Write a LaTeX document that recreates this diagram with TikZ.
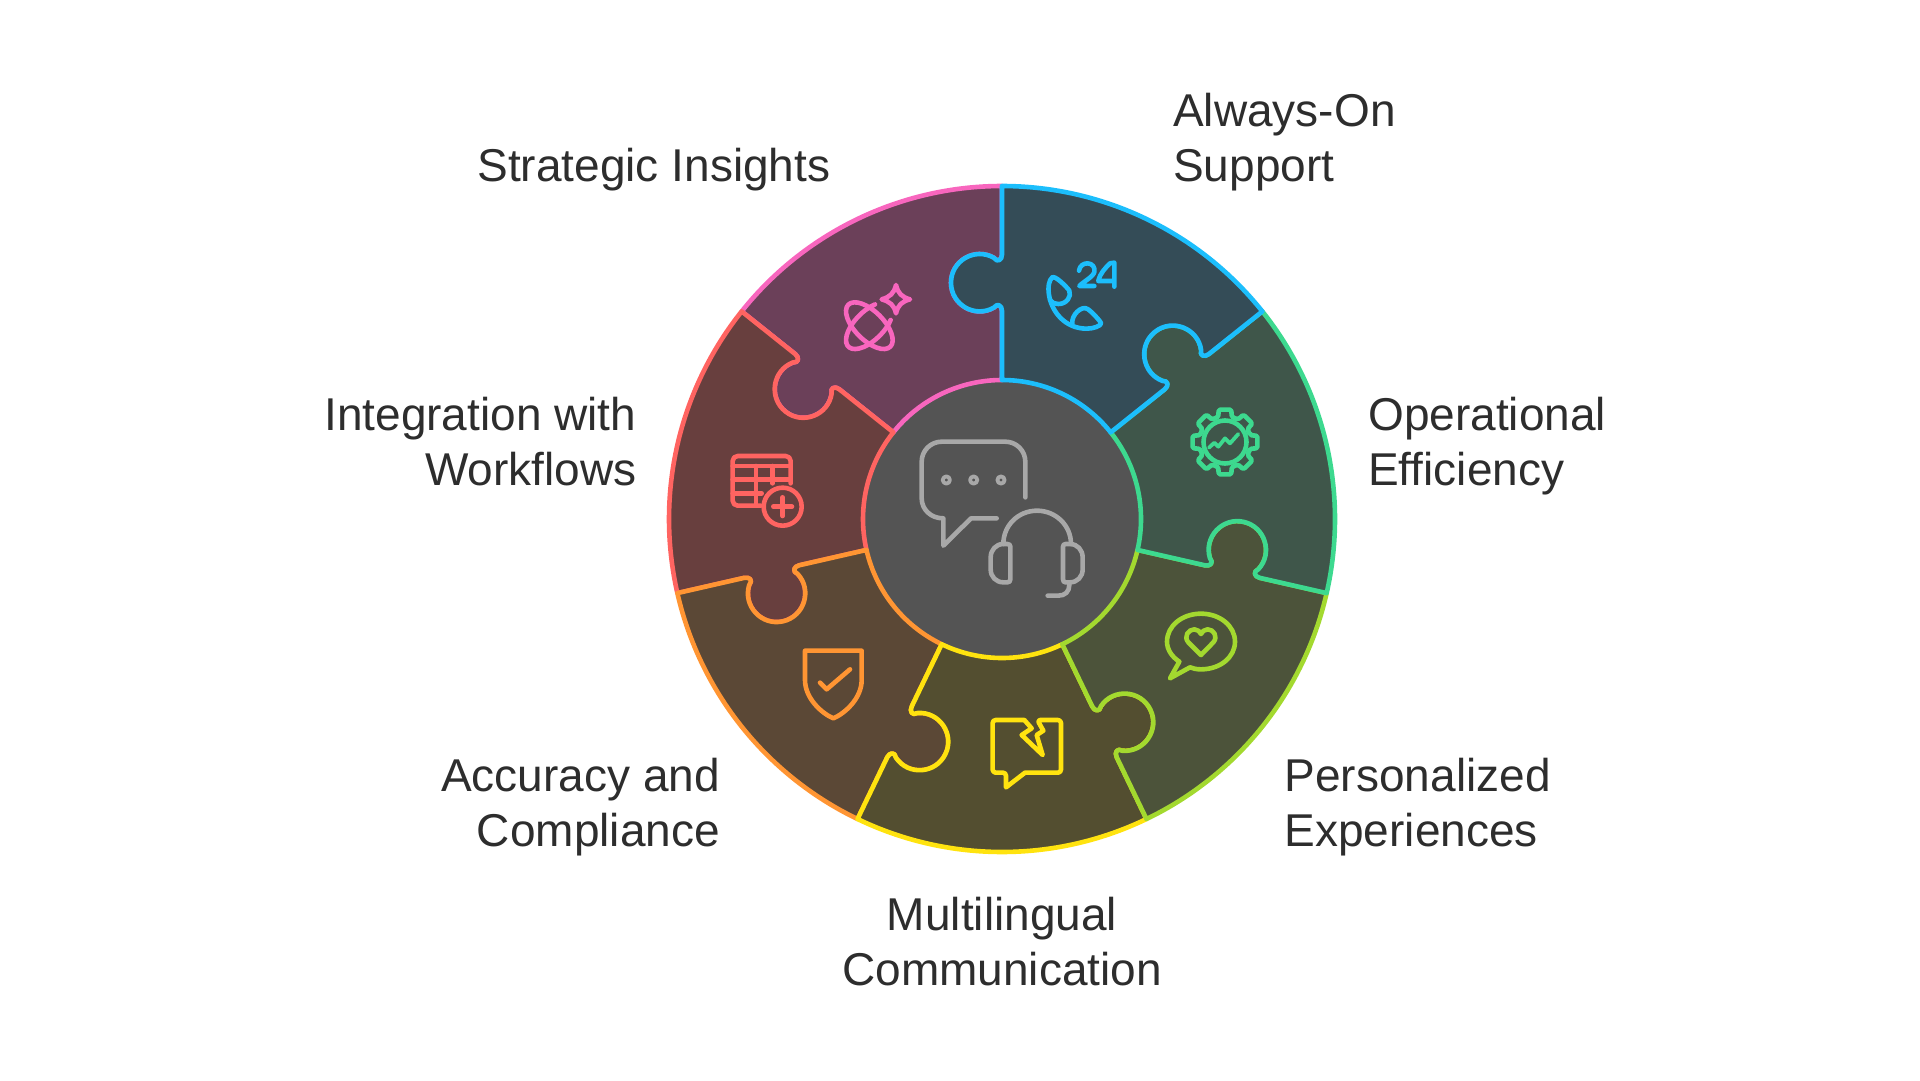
\documentclass[tikz,border=0pt]{standalone}
\usepackage{fontspec}
\setmainfont{Liberation Sans}
\definecolor{cblue}{HTML}{1CBEFC}\definecolor{fblue}{HTML}{344C57}
\definecolor{cgreen}{HTML}{3DD98F}\definecolor{fgreen}{HTML}{3F564A}
\definecolor{clime}{HTML}{A3D92F}\definecolor{flime}{HTML}{4C533A}
\definecolor{cyel}{HTML}{FFE30F}\definecolor{fyel}{HTML}{534E30}
\definecolor{corg}{HTML}{FF9533}\definecolor{forg}{HTML}{5B4836}
\definecolor{cred}{HTML}{FF6461}\definecolor{fred}{HTML}{683F3E}
\definecolor{cpink}{HTML}{F866BE}\definecolor{fpink}{HTML}{6B4059}
\definecolor{ccore}{HTML}{545454}\definecolor{cicon}{HTML}{A8A8A8}
\definecolor{ctext}{HTML}{2D2D2D}
\tikzset{
  piece/.style={line width=4.6pt,line join=round},
  icon/.style={line width=4.6pt,line cap=round,line join=round},
  zoomed/.style={x=0.33333pt,y=-0.33333pt},
  label/.style={font=\fontsize{46}{55}\selectfont,text=ctext,inner sep=0pt}
}
% one piece: #1,#2 = its two dividers, #3,#4 = their angles
\newcommand{\puzzlepiece}[6]{%
  \draw[piece,draw=#5,fill=#6]
    (d#1a) -- (d#1b) .. controls (d#1c) and (d#1d) .. (d#1e)
    .. controls (d#1f) and (d#1g) .. (d#1h)
    .. controls (d#1i) and (d#1j) .. (d#1k)
    .. controls (d#1l) and (d#1m) .. (d#1n) -- (d#1o)
    arc[start angle=#3,end angle=#4,radius=333pt]
    -- (d#2n) .. controls (d#2m) and (d#2l) .. (d#2k)
    .. controls (d#2j) and (d#2i) .. (d#2h)
    .. controls (d#2g) and (d#2f) .. (d#2e)
    .. controls (d#2d) and (d#2c) .. (d#2b) -- (d#2a)
    arc[start angle=#4,end angle=#3,radius=139pt] -- cycle;}
\begin{document}
\begin{tikzpicture}[x=1pt,y=-1pt]
\useasboundingbox (0,0) rectangle (1920,1080);
\coordinate (hub) at (1002,519);
\begin{scope}[shift={(hub)},y=1pt]
  \foreach \n/\ang in {1/141.4286,2/90,3/38.5714,4/-12.8571,5/-64.2857,6/-115.7143,7/-167.1429}{
    \begin{scope}[rotate=\ang]
      \coordinate (d\n a) at (139,0);
      \coordinate (d\n b) at (208,0);
      \coordinate (d\n c) at (213.5,0);
      \coordinate (d\n d) at (216.5,4.5);
      \coordinate (d\n e) at (211.5,8);
      \coordinate (d\n f) at (200.4,27);
      \coordinate (d\n g) at (214.3,51);
      \coordinate (d\n h) at (236.3,51);
      \coordinate (d\n i) at (258.3,51);
      \coordinate (d\n j) at (272.2,27);
      \coordinate (d\n k) at (261.1,8);
      \coordinate (d\n l) at (256.1,4.5);
      \coordinate (d\n m) at (259,0);
      \coordinate (d\n n) at (264.5,0);
      \coordinate (d\n o) at (333,0);
    \end{scope}}
  \fill[ccore] (0,0) circle[radius=139pt];
  \puzzlepiece{1}{2}{141.4286}{90}{cpink}{fpink}
  \puzzlepiece{7}{1}{-167.1429}{-218.5714}{cred}{fred}
  \puzzlepiece{6}{7}{-115.7143}{-167.1429}{corg}{forg}
  \puzzlepiece{5}{6}{-64.2857}{-115.7143}{cyel}{fyel}
  \puzzlepiece{4}{5}{-12.8571}{-64.2857}{clime}{flime}
  \puzzlepiece{3}{4}{38.5714}{-12.8571}{cgreen}{fgreen}
  \puzzlepiece{2}{3}{90}{38.5714}{cblue}{fblue}
\end{scope}
% centre icon
\begin{scope}[shift={(900,420)},zoomed,icon,draw=cicon]
  \draw (376,232) -- (376,125) .. controls (376,92) and (349,65) .. (316,65) -- (125,65) .. controls (92,65) and (65,92) .. (65,125) -- (65,235) .. controls (65,268) and (92,295) .. (130,295) -- (130,377) -- (213,295) -- (290,295);
  \foreach \q in {139,221,303}{\draw[line width=3.8pt] (\q,180) circle[radius=3.6pt];}
  \draw (310,372) .. controls (310,316) and (355,272) .. (411,272) .. controls (467,272) and (513,316) .. (513,372);
  \draw (322,372) .. controls (328,372) and (331,375) .. (331,380) -- (331,478) .. controls (331,484) and (328,487) .. (322,487) -- (310,487) .. controls (288,487) and (272,470) .. (272,448) -- (272,412) .. controls (272,390) and (288,372) .. (310,372) -- cycle;
  \draw (497,372) .. controls (492,372) and (489,375) .. (489,380) -- (489,478) .. controls (489,484) and (492,487) .. (497,487) -- (510,487) .. controls (532,487) and (548,470) .. (548,448) -- (548,412) .. controls (548,390) and (532,372) .. (510,372) -- cycle;
  \draw (508,487) -- (508,495) .. controls (508,515) and (495,527) .. (475,527) -- (443,527);
\end{scope}
% pink icon
\begin{scope}[shift={(830,275)},zoomed,icon,draw=cpink]
  \draw[shift={(118,152)},rotate=-45] (0,0) ellipse[x radius=29.7pt,y radius=14.4pt];
  \draw[shift={(118,152)},rotate=45] (19.1pt,11pt) arc[start angle=50,end angle=310,x radius=29.7pt,y radius=14.4pt];
  \draw (198,30) .. controls (204,55) and (215,66) .. (240,73) .. controls (215,80) and (204,90) .. (198,115) .. controls (192,90) and (180,80) .. (155,73) .. controls (180,66) and (192,55) .. (198,30) -- cycle;
\end{scope}
% blue icon
\begin{scope}[shift={(1035,250)},zoomed,icon,draw=cblue]
  \draw (132,62) .. controls (134,47) and (146,40) .. (157,40) .. controls (172,40) and (181,52) .. (178,66) .. controls (175,80) and (145,95) .. (133,108) -- (178,108);
  \draw (238,110) -- (238,38) -- (225,40) .. controls (210,55) and (195,70) .. (190,93) -- (238,93);
  \draw (52,82) .. controls (60,76) and (95,110) .. (103,122) .. controls (110,140) and (95,162) .. (70,162) .. controls (60,163) and (50,158) .. (45,150);
  \draw (52,82) .. controls (42,90) and (38,110) .. (42,135) .. controls (50,185) and (90,236) .. (155,236) .. controls (175,236) and (198,228) .. (198,220) .. controls (198,215) and (170,185) .. (158,177) .. controls (140,165) and (108,195) .. (112,222);
\end{scope}
% green icon
\begin{scope}[shift={(1175,395)},zoomed,icon,draw=cgreen]
  \begin{scope}[shift={(150,141)}]
    \draw[rounded corners=1.5pt] (-15:78) \foreach \t in {0,45,...,315}{ -- ({\t-15}:78) -- ({\t-11}:99) -- ({\t+11}:99) -- ({\t+15}:78)} -- cycle;
    \draw (0,0) circle[radius=21.5pt];
  \end{scope}
  \draw[line width=3.8pt] (102,158) -- (118,143) -- (130,155) -- (150,130) -- (165,145) -- (190,117);
\end{scope}
% lime icon
\begin{scope}[shift={(1000,460)},zoomed,icon,draw=clime]
  \draw (570,622) .. controls (580,626) and (590,628) .. (603,628) .. controls (660,628) and (705,592) .. (705,545) .. controls (705,498) and (660,461) .. (603,461) .. controls (546,461) and (501,498) .. (501,545) .. controls (501,568) and (515,590) .. (538,605) -- (510,655) -- cycle;
  \draw (603,585) -- (565,547) .. controls (550,530) and (565,508) .. (583,508) .. controls (593,508) and (600,515) .. (603,522) .. controls (606,515) and (613,508) .. (623,508) .. controls (641,508) and (655,530) .. (640,547) -- cycle;
\end{scope}
% yellow icon
\begin{scope}[shift={(980,700)},zoomed,icon,draw=cyel]
  \draw[rounded corners=3pt] (133,60) -- (38,60) -- (38,218) -- (78,218) [sharp corners] -- (78,262) -- (135,218) [rounded corners=3pt] -- (243,218) -- (243,60) -- (172,60) [sharp corners] -- (190,92) -- (170,105) -- (188,165) -- (125,105) -- (155,85) -- cycle;
\end{scope}
% orange icon
\begin{scope}[shift={(660,460)},zoomed,icon,draw=corg]
  \draw (435,572) -- (605,572) -- (605,660) .. controls (605,715) and (555,760) .. (520,775) .. controls (485,760) and (435,715) .. (435,660) -- cycle;
  \draw (480,668) -- (500,688) -- (570,628);
\end{scope}
% red icon
\begin{scope}[shift={(720,440)},zoomed,icon,draw=cred]
  \draw[rounded corners=5pt] (212,130) -- (212,48) -- (38,48) -- (38,197) -- (122,197);
  \draw (38,78) -- (212,78) (38,118) -- (212,118) (38,160) -- (125,160);
  \draw (108,78) -- (108,197) (158,78) -- (158,130);
  \draw (188,200) circle[radius=19pt];
  \draw (188,172) -- (188,228) (160,200) -- (216,200);
\end{scope}
% labels (anchored on last baseline)
\node[label,anchor=base east] (strategic) at (830.5,181) {Strategic Insights};
\node[label,anchor=base west,align=left] (always) at (1173,181) {Always-On\\Support};
\node[label,anchor=base west,align=left] (oper) at (1368,485.5) {Operational\\Efficiency};
\node[label,anchor=base west,align=left] (pers) at (1284.5,846.5) {Personalized\\Experiences};
\node[label,anchor=base,align=center] (multi) at (1002,985.5) {Multilingual\\Communication};
\node[label,anchor=base east,align=right] (acc) at (720,846.5) {Accuracy and\\Compliance};
\node[label,anchor=base east,align=right] (integ) at (636.5,485.5) {Integration with\\Workflows};
\end{tikzpicture}
\end{document}
